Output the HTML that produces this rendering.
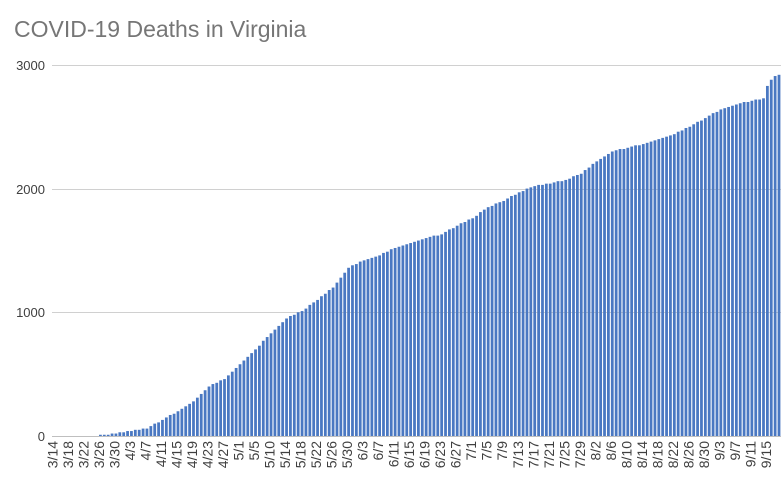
<!DOCTYPE html>
<html><head><meta charset="utf-8"><style>
html,body{margin:0;padding:0;background:#fff;width:784px;height:486px;overflow:hidden}
svg{display:block;font-family:"Liberation Sans",sans-serif}
</style></head><body>
<svg id="s" width="784" height="486" xmlns="http://www.w3.org/2000/svg">
<text x="14" y="37" font-size="23" fill="#767676">COVID-19 Deaths in Virginia</text>
<g font-size="13" fill="#404040" text-anchor="end">
<text x="45" y="441">0</text><text x="45" y="317">1000</text><text x="45" y="194">2000</text><text x="45" y="70">3000</text>
</g>
<g stroke="#d0d0d0" stroke-width="1">
<line x1="52" y1="65.5" x2="781" y2="65.5"/><line x1="52" y1="189.5" x2="781" y2="189.5"/><line x1="52" y1="312.5" x2="781" y2="312.5"/>
</g>
<g id="bars"></g>
<line x1="52" y1="436.5" x2="781" y2="436.5" stroke="#bfbfbf"/>
<g id="labs" font-size="14" fill="#404040"></g>
</svg>
<script>
var labels="3/14,3/18,3/22,3/26,3/30,4/3,4/7,4/11,4/15,4/19,4/23,4/27,5/1,5/5,5/10,5/14,5/18,5/22,5/26,5/30,6/3,6/7,6/11,6/15,6/19,6/23,6/27,7/1,7/5,7/9,7/13,7/17,7/21,7/25,7/29,8/2,8/6,8/10,8/14,8/18,8/22,8/26,8/30,9/3,9/7,9/11,9/15".split(",");
var kp=[0,0,4,0,12,5,20,40,24,60,28,130,32,200,36,280,40,400,44,460,48,580,52,700,56,830,60,950,64,1010,68,1100,72,1200,76,1360,80,1420,84,1460,88,1520,92,1560,96,1600,100,1630,104,1700,108,1760,112,1850,116,1900,120,1970,124,2020,128,2040,132,2070,136,2120,140,2220,144,2300,148,2330,152,2360,156,2400,160,2440,164,2500,168,2570,172,2640,176,2680,180,2710,183,2730,184,2830,185,2880,186,2910,187,2920];
function val(i){for(var k=0;k<kp.length-2;k+=2){if(i>=kp[k]&&i<=kp[k+2]){var t=(i-kp[k])/(kp[k+2]-kp[k]);return kp[k+1]+t*(kp[k+3]-kp[k+1]);}}return 2920;}
var N=188,x0=52,w=(781-52)/N,ns="http://www.w3.org/2000/svg",g=document.getElementById("bars");
for(var i=0;i<N;i++){var v=Math.round(val(i)/10)*10;var h=v*0.1237;var r=document.createElementNS(ns,"rect");
r.setAttribute("x",(x0+i*w+0.5).toFixed(2));r.setAttribute("width",(w-1.1).toFixed(2));r.setAttribute("y",(436-h).toFixed(2));r.setAttribute("height",h.toFixed(2));r.setAttribute("fill","#4a78c2");g.appendChild(r);}
var L=document.getElementById("labs");
labels.forEach(function(s,j){var cx=x0+(j*4+0.5)*w+3.5;var t=document.createElementNS(ns,"text");t.setAttribute("transform","translate("+cx.toFixed(1)+",441) rotate(-90)");t.setAttribute("text-anchor","end");t.textContent=s;L.appendChild(t);});
</script>
</body></html>
